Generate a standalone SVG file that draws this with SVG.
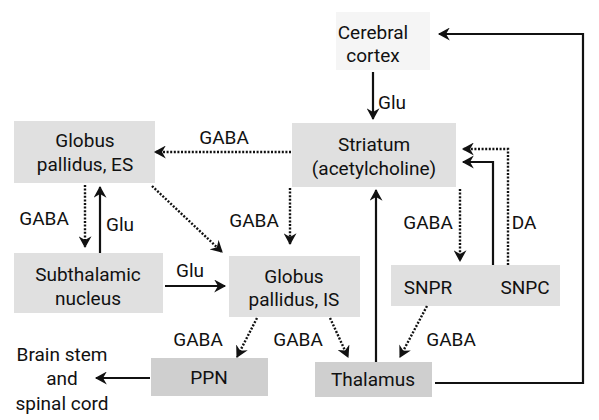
<svg xmlns="http://www.w3.org/2000/svg" width="599" height="420" viewBox="0 0 599 420">
<style>
text{font-family:Roboto,"Liberation Sans",sans-serif;font-size:19px;fill:#111;text-anchor:middle}
.box{fill:#e0e0e0}
.dark{fill:#cfcfcf}
.s{stroke:#111;stroke-width:2.2;fill:none;marker-end:url(#ah)}
.d{stroke:#111;stroke-width:2.4;fill:none;stroke-dasharray:2 1.6;marker-end:url(#ah)}
</style>
<defs>
<marker id="ah" viewBox="0 0 12 12" refX="10" refY="6" markerWidth="13" markerHeight="13" markerUnits="userSpaceOnUse" orient="auto">
<path d="M0,0 L11,6 L0,12 L3.5,6 z" fill="#111"/>
</marker>
</defs>
<rect width="599" height="420" fill="#fff"/>
<g id="cortex"><rect x="336" y="12" width="94" height="58" fill="#f5f5f5"/><text x="373" y="39">Cerebral</text><text x="373" y="62">cortex</text></g>
<g id="gpes"><rect class="box" x="14" y="121" width="141" height="62"/><text x="85" y="147">Globus</text><text x="85" y="171">pallidus, ES</text></g>
<g id="striatum"><rect class="box" x="292" y="123" width="164" height="64"/><text x="374" y="151">Striatum</text><text x="374" y="175">(acetylcholine)</text></g>
<g id="subthalamic"><rect class="box" x="14" y="253" width="149" height="60"/><text x="88" y="281">Subthalamic</text><text x="88" y="305">nucleus</text></g>
<g id="gpis"><rect class="box" x="229" y="256" width="131" height="61"/><text x="294" y="283">Globus</text><text x="294" y="306">pallidus, IS</text></g>
<g id="snpr_snpc"><rect class="box" x="391" y="265" width="169" height="41"/><text x="428" y="294">SNPR</text><text x="525" y="294">SNPC</text></g>
<g id="ppn"><rect class="dark" x="151" y="358" width="117" height="38"/><text x="209" y="384">PPN</text></g>
<g id="thalamus"><rect class="dark" x="315" y="362" width="117" height="35"/><text x="373" y="386">Thalamus</text></g>
<g id="brainstem"><text x="62" y="361">Brain stem</text><text x="62" y="385">and</text><text x="62" y="410">spinal cord</text></g>
<g id="connectors">
<path class="s" d="M373,72 V119"/>
<path class="s" d="M435,383 H583 V34 H439"/>
<path class="d" d="M291,152 H155"/>
<path class="d" d="M290,188 V244"/>
<path class="d" d="M152,186 L222,252"/>
<path class="d" d="M85,185 V247"/>
<path class="s" d="M100,253 V187"/>
<path class="s" d="M165,286 H225"/>
<path class="d" d="M460,189 V261"/>
<path class="s" d="M493,265 V162 H463"/>
<path class="d" d="M508,265 V149 H463"/>
<path class="s" d="M376,362 V190"/>
<path class="d" d="M257,318 L237,357"/>
<path class="d" d="M330,318 L348,357"/>
<path class="d" d="M427,306 L400,357"/>
<path class="s" d="M150,378 H96"/>
</g>
<g id="labels">
<text x="392" y="109">Glu</text>
<text x="224" y="144">GABA</text>
<text x="254" y="227">GABA</text>
<text x="44" y="225">GABA</text>
<text x="120" y="231">Glu</text>
<text x="190" y="277">Glu</text>
<text x="428" y="229">GABA</text>
<text x="524" y="229">DA</text>
<text x="198" y="346">GABA</text>
<text x="298" y="346">GABA</text>
<text x="451" y="346">GABA</text>
</g>
</svg>
